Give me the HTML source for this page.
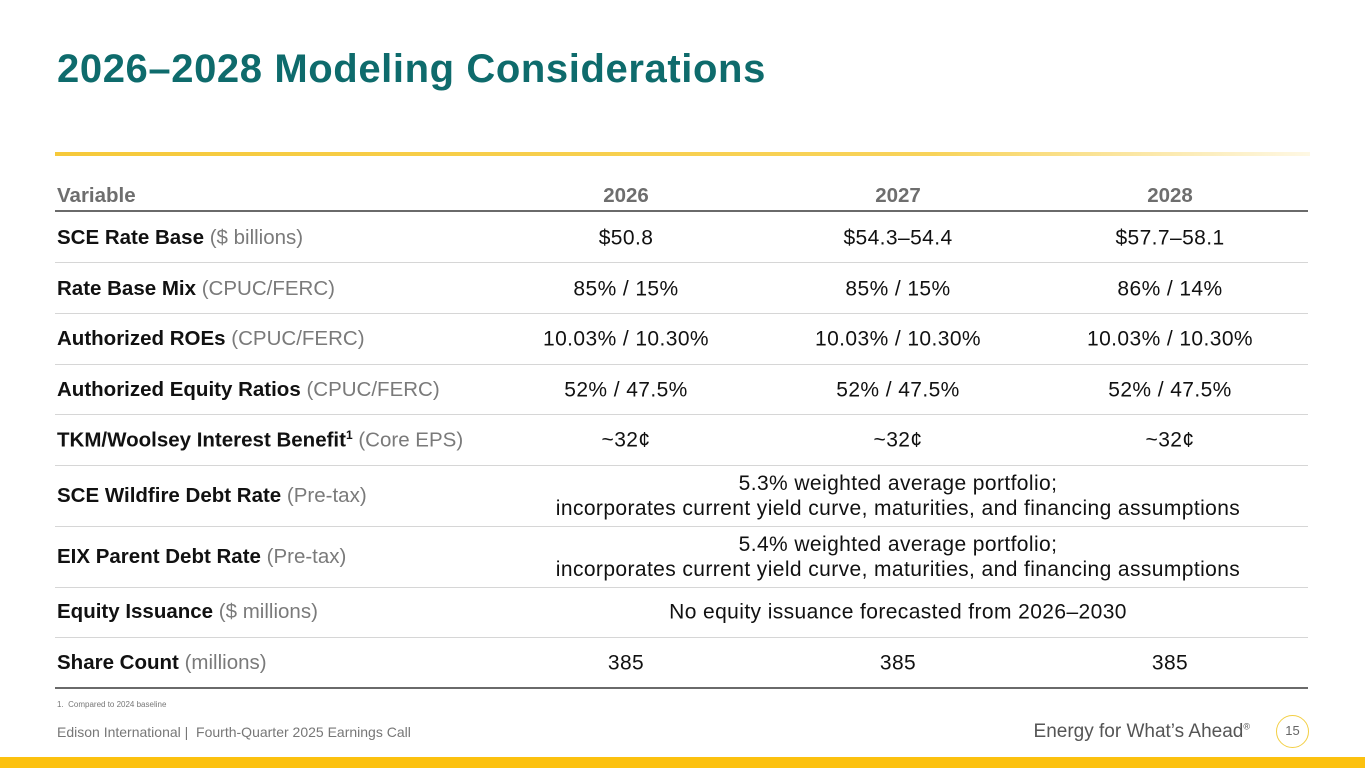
<!DOCTYPE html>
<html><head><meta charset="utf-8"><style>
body{margin:0;width:1365px;height:768px;position:relative;background:#fff;font-family:"Liberation Sans",sans-serif;overflow:hidden}
.a{position:absolute;white-space:nowrap}
.t{left:57px;top:47px;font-size:40px;font-weight:bold;color:#0e6b6c;letter-spacing:0.6px}
.gold{left:55px;top:152px;width:1255px;height:4px;background:linear-gradient(90deg,#f6c93a,#f8d35a 70%,rgba(250,220,120,0.2))}
.hd{font-size:20.5px;font-weight:bold;color:#6e6e6e;top:184px}
.lbl{position:absolute;left:2px;font-size:20.5px;color:#111;white-space:nowrap;transform:translateY(-50%)}
.lbl b{font-weight:bold}
.lbl span{color:#7a7a7a}
.v{position:absolute;font-size:21px;letter-spacing:0.4px;color:#111;white-space:nowrap;transform:translate(-50%,-50%);text-align:center;line-height:25px}
.ln{position:absolute;left:55px;width:1253px;height:1px;background:#d6d6d6}
</style></head><body>
<div class="a t">2026–2028 Modeling Considerations</div>
<div class="a gold"></div>
<div>
<div class="a hd" style="left:57px">Variable</div>
<div class="a hd" style="left:626px;transform:translateX(-50%)">2026</div>
<div class="a hd" style="left:898px;transform:translateX(-50%)">2027</div>
<div class="a hd" style="left:1170px;transform:translateX(-50%)">2028</div>
<div class="ln" style="top:210px;height:2px;background:#6a6a6a"></div>
<div id="rows"></div>
</div>
<div class="a" style="left:57px;top:700px;font-size:8px;color:#777">1.&nbsp; Compared to 2024 baseline</div>
<div class="a" style="left:57px;top:724px;font-size:14px;color:#777">Edison International |&nbsp; Fourth-Quarter 2025 Earnings Call</div>
<div class="a" style="right:115px;top:721px;font-size:19px;color:#555">Energy for What’s Ahead<sup style="font-size:9px">®</sup></div>
<div class="a" style="left:1276px;top:715px;width:33px;height:33px;border:1.5px solid #f3cf45;border-radius:50%;box-sizing:border-box;font-size:13px;color:#666;text-align:center;line-height:30px">15</div>
<div class="a" style="left:0;top:757px;width:1365px;height:11px;background:#fcc10f"></div>
<script>
const labels=[["SCE Rate Base","($ billions)"],["Rate Base Mix","(CPUC/FERC)"],["Authorized ROEs","(CPUC/FERC)"],["Authorized Equity Ratios","(CPUC/FERC)"],["TKM/Woolsey Interest Benefit<sup style='font-size:12px'>1</sup>","(Core EPS)"],["SCE Wildfire Debt Rate","(Pre-tax)"],["EIX Parent Debt Rate","(Pre-tax)"],["Equity Issuance","($ millions)"],["Share Count","(millions)"]];
const vals=[["$50.8","$54.3–54.4","$57.7–58.1"],["85% / 15%","85% / 15%","86% / 14%"],["10.03% / 10.30%","10.03% / 10.30%","10.03% / 10.30%"],["52% / 47.5%","52% / 47.5%","52% / 47.5%"],["~32¢","~32¢","~32¢"],["5.3% weighted average portfolio;<br>incorporates current yield curve, maturities, and financing assumptions"],["5.4% weighted average portfolio;<br>incorporates current yield curve, maturities, and financing assumptions"],["No equity issuance forecasted from 2026–2030"],["385","385","385"]];
const centers=[238,289,339,390,440,496,557,612,663];
const lines=[262,313,364,414,465,526,587,637];
const cols=[626,898,1170];
const root=document.getElementById('rows');
labels.forEach((l,i)=>{
  const d=document.createElement('div');d.className='lbl';d.style.top=centers[i]+'px';d.style.left='57px';
  
  
  d.innerHTML='<b>'+l[0]+'</b> <span>'+l[1]+'</span>';root.appendChild(d);
  const v=vals[i];
  v.forEach((t,j)=>{
    const c=document.createElement('div');c.className='v';c.style.top=centers[i]+'px';
    c.style.left=(v.length===1?cols[1]:cols[j])+'px';
    
    
    c.innerHTML=t;root.appendChild(c);
  });
});
lines.forEach(y=>{const l=document.createElement('div');l.className='ln';l.style.top=y+'px';


root.appendChild(l);});
const b=document.createElement('div');b.className='ln';b.style.top='687px';b.style.height='2px';b.style.background='#6a6a6a';


root.appendChild(b);
</script>
</body></html>
